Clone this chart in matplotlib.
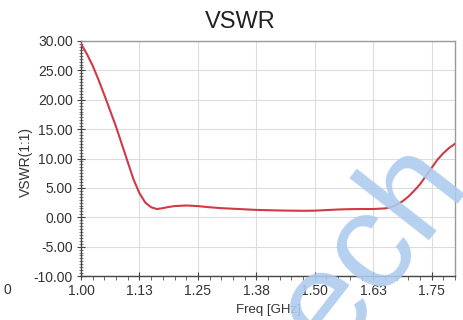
import matplotlib
matplotlib.use("Agg")
import matplotlib.pyplot as plt
from matplotlib.ticker import MultipleLocator, FixedLocator

plt.rcParams['font.family'] = ['Liberation Sans', 'DejaVu Sans']

freq = [1.000, 1.0125, 1.025, 1.0375, 1.050, 1.0625, 1.075, 1.0875, 1.100, 1.1125,
        1.125, 1.1375, 1.150, 1.1625, 1.175, 1.1875, 1.200, 1.225, 1.250, 1.275,
        1.300, 1.325, 1.350, 1.375, 1.400, 1.425, 1.450, 1.475, 1.500, 1.525,
        1.550, 1.575, 1.600, 1.625, 1.650, 1.6625, 1.675, 1.6875, 1.700, 1.7125,
        1.725, 1.7375, 1.750, 1.7625, 1.775, 1.7875, 1.800]
vswr = [29.5, 27.8, 25.8, 23.4, 20.8, 18.1, 15.4, 12.4, 9.4, 6.4,
        4.1, 2.5, 1.7, 1.4, 1.55, 1.75, 1.9, 2.0, 1.9, 1.7,
        1.55, 1.45, 1.35, 1.25, 1.2, 1.15, 1.12, 1.1, 1.12, 1.22,
        1.32, 1.38, 1.4, 1.4, 1.5, 1.7, 2.1, 2.7, 3.5, 4.5,
        5.6, 7.0, 8.4, 9.8, 10.9, 11.8, 12.5]

xticks = [1.000, 1.125, 1.250, 1.375, 1.500, 1.625, 1.750]
xtick_labels = ["1.00", "1.13", "1.25", "1.38", "1.50", "1.63", "1.75"]
yticks = [-10, -5, 0, 5, 10, 15, 20, 25, 30]
ytick_labels = ["-10.00", "-5.00", "0.00", "5.00", "10.00", "15.00", "20.00", "25.00", "30.00"]

fig = plt.figure(figsize=(4.63, 3.20), dpi=100)
ax = fig.add_axes([81/463, 1-276/320, (455-81)/463, (276-41)/320])

ax.plot(freq, vswr, color='#cf3a46', lw=1.5, zorder=3)

ax.set_xlim(1.0, 1.8)
ax.set_ylim(-10, 30)
ax.xaxis.set_major_locator(FixedLocator(xticks))
ax.set_xticklabels(xtick_labels)
ax.xaxis.set_minor_locator(MultipleLocator(0.025))
ax.yaxis.set_major_locator(FixedLocator(yticks))
ax.set_yticklabels(ytick_labels)
ax.yaxis.set_minor_locator(MultipleLocator(0.5))

ax.grid(True, which='major', color='#dcdcdc', lw=0.8)
ax.set_axisbelow(True)

for s in ['top', 'right']:
    ax.spines[s].set_color('#9a9a9a')
for s in ['left', 'bottom']:
    ax.spines[s].set_color('#444444')
for s in ax.spines.values():
    s.set_linewidth(1.0)

ax.tick_params(axis='both', which='major', direction='inout', length=6, width=0.8,
               colors='#444444', labelsize=10, labelcolor='#333333', pad=3)
ax.tick_params(axis='x', which='minor', direction='out', length=3, width=0.7, colors='#666666')
ax.tick_params(axis='y', which='minor', direction='inout', length=3, width=0.6, colors='#666666')

fig.text(240/463, 1-22/320, "VSWR", fontsize=17, color='#222222', ha='center', va='center')
ax.set_xlabel("Freq [GHz]", fontsize=9.5, color='#333333', labelpad=4)
ax.set_ylabel("VSWR(1:1)", fontsize=10, color='#333333')
ax.yaxis.set_label_coords((33-81)/374, (276-162)/235)

fig.text(3/463, 1-290/320, "0", fontsize=10, color='#333333', va='center', ha='left')

fig.text(372/463, 1-248/320, "ech", fontsize=100, color='#aecbef', alpha=0.9,
         rotation=52, ha='center', va='center', zorder=10)

fig.savefig("out.png", dpi=100)
